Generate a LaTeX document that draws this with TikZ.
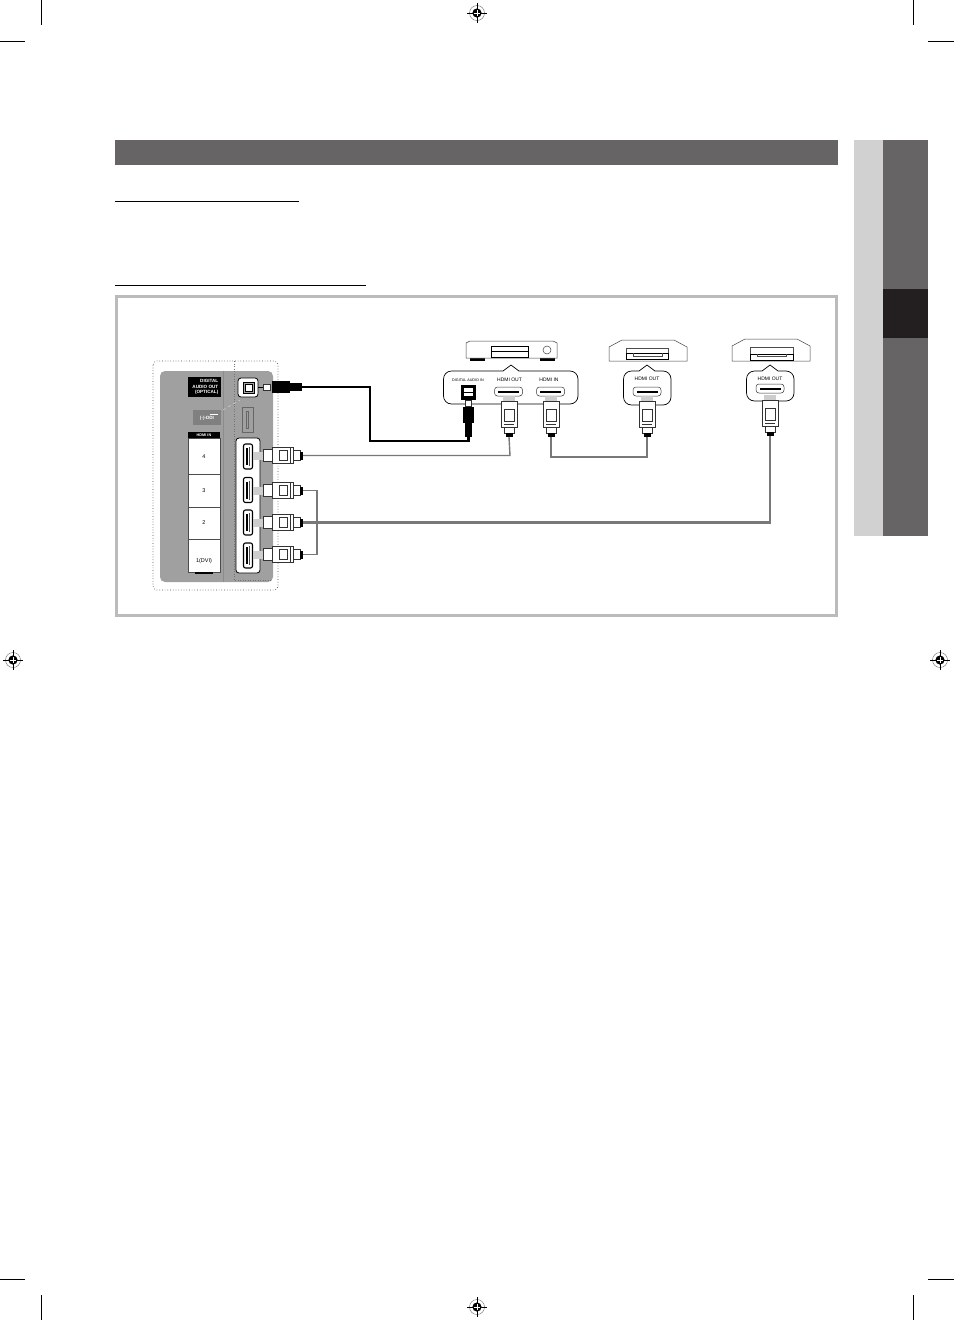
\documentclass[tikz,border=0pt]{standalone}
\usepackage{xcolor}
\usepackage{fontspec}
\setmainfont{Liberation Sans}
\usetikzlibrary{arrows.meta,positioning,calc}
\definecolor{headgrey}{RGB}{102,100,100}
\definecolor{sidegrey}{RGB}{209,209,209}
\definecolor{darkside}{RGB}{35,31,32}
\definecolor{framegrey}{RGB}{187,187,187}
\definecolor{panelgrey}{RGB}{160,160,160}
\definecolor{cablegrey}{RGB}{120,120,120}
\definecolor{neckgrey}{RGB}{205,205,205}

\newcommand{\callout}[5]{% left, top, right, bottom, apex x
  \draw[bubble] (#5,#2-6) -- (#5+8,#2) [rounded corners=8pt] -- (#3,#2) -- (#3,#4) -- (#1,#4) -- (#1,#2) [sharp corners] -- (#5-8,#2) -- cycle;}

\tikzset{
  hplug/.pic={
    \fill[neckgrey] (0,-4) rectangle (10,4);
    \draw[plugline] (10,-6) rectangle (19,6);
    \draw[plugline] (19,-8) rectangle (40,8);
    \draw[plugline] (26,-5) rectangle (34,5);
    \draw[plugline] (37,-8) -- (37,8);
    \draw[plugline] (40,-5) rectangle (47,5);
    \fill[black] (47,-4) rectangle (50,4);
    \coordinate (-end) at (50,0);},
  vplug/.pic={
    \fill[neckgrey] (-6,0) rectangle (6,6);
    \draw[plugline] (-8,5) rectangle (8,31);
    \draw[plugline] (-5,13) rectangle (5,25);
    \draw[plugline] (-5,28) -- (5,28);
    \draw[plugline] (-5,31) rectangle (5,37);
    \fill[black] (-3.5,37) rectangle (3.5,41);
    \coordinate (-end) at (0,41);},
  hport/.pic={
    \draw[black!80,line width=.5pt,fill=white,rounded corners=3pt] (-14,-4.5) rectangle (14,4.5);
    \fill[black] (-10.5,-1) rectangle (10.5,1.2);},
  tvport/.pic={
    \draw[black,line width=1.1pt,fill=white,rounded corners=2pt] (-4.5,-12.5) -- (4.5,-12.5) -- (4.5,12.5) -- (-4.5,12.5) -- cycle;
    \fill[black] (-2.4,-8.5) rectangle (-.4,8.5);
    \draw[black!70,line width=.3pt] (1.2,-9.5) -- (1.2,9.5);},
  regmark/.pic={
    \draw[black!60,line width=.4pt] (0,0) circle (7.5);
    \fill[black] (0,0) circle (4.6);
    \draw[white,line width=.5pt] (-4.6,0) -- (4.6,0) (0,-4.6) -- (0,4.6);
    \draw[black,line width=.5pt] (-10,0) -- (-3,0) (3,0) -- (10,0) (0,-10) -- (0,-3) (0,3) -- (0,10);},
}

\begin{document}
\begin{tikzpicture}[x=1pt,y=-1pt,
  plugline/.style={draw=black!80, line width=.45pt, fill=white},
  bubble/.style={draw=black, line width=.7pt, fill=white},
  devbox/.style={draw=black!75, line width=.5pt, fill=white},
  croprule/.style={black, line width=.6pt},
  hdmicable/.style={draw=cablegrey, line width=2.2pt},
  thincable/.style={draw=cablegrey, line width=1.4pt},
  optcable/.style={draw=black, line width=2.2pt},
  portlabel/.style={font=\fontsize{5}{5}\selectfont, inner sep=0pt},
  paneltext/.style={font=\fontsize{4.6}{5.6}\selectfont, inner sep=0pt, text=white, align=right},
  celltext/.style={font=\fontsize{5.5}{6}\selectfont, inner sep=0pt}]
\useasboundingbox (0,0) rectangle (954,1320);

% crop marks
\draw[croprule] (41.5,0) -- (41.5,25) (0,41) -- (25,41);
\draw[croprule] (913,0) -- (913,25) (928,41) -- (954,41);
\draw[croprule] (41.5,1295) -- (41.5,1320) (0,1279) -- (25,1279);
\draw[croprule] (913,1295) -- (913,1320) (928,1279) -- (954,1279);
\foreach \mx/\my in {477/13,13/660,940/660,477/1307}
  \pic at (\mx,\my) {regmark};

% header and rules
\fill[headgrey] (115,140) rectangle (838,165);
\draw[black,line width=1pt] (115,201) -- (299,201);
\draw[black,line width=1pt] (115,285) -- (366,285);
\draw[framegrey,line width=3pt] (116.5,296.5) rectangle (836.5,615);

% side tab
\fill[sidegrey] (854,140) rectangle (883,536);
\fill[headgrey] (883,140) rectangle (928,536);
\fill[darkside] (883,289) rectangle (928,338);

% tv panel
\draw[black!70,line width=.7pt,dotted,rounded corners=4pt] (153,361) rectangle (278,590);
\fill[panelgrey,rounded corners=5pt] (160,371) rectangle (273,582);
\draw[black!45,line width=.5pt] (223,371) -- (223,582);
\draw[black!55,line width=.5pt,dotted] (234,361) -- (234,580) -- (272,580);
\draw[white!85!black,line width=.4pt,dashed] (223,410) -- (240,400);
\fill[black] (188,377) rectangle (221,397);
\node[paneltext, anchor=east] (optlabel) at (218.5,387) {\bfseries DIGITAL\\\bfseries AUDIO OUT\\\bfseries (OPTICAL)};
\fill[black!50] (193,410) rectangle (221,425);
\node[paneltext, anchor=center] (exlabel) at (207,418.5) {\bfseries (-)-DDI};
\draw[white,line width=.5pt] (210,414) -- (218,414);
% hdmi labels
\fill[black] (188,432) rectangle (220,438);
\node[font=\fontsize{3.8}{4}\selectfont\bfseries, inner sep=0pt, text=white] (hdmiin) at (204,435.2) {HDMI IN};
\draw[black!70,line width=.5pt,fill=white] (188,438) rectangle (220,572);
\foreach \cy in {474,507,539}
  \draw[black!70,line width=.5pt] (188,\cy) -- (220,\cy);
\fill[black] (195,572) rectangle (213,573.5);
\node[celltext] (slotfour) at (204,457) {4};
\node[celltext] (slotthree) at (204,491) {3};
\node[celltext] (slottwo) at (204,523) {2};
\node[celltext] (slotone) at (204,561) {1(DVI)};

% tv ports
\draw[black,line width=.8pt,fill=white,rounded corners=3pt] (238,378) rectangle (258,397);
\draw[black,line width=.7pt,fill=black!35] (243,382) rectangle (254,393);
\draw[black,line width=.4pt,fill=white] (245,384) rectangle (252,391);
\draw[black!60,line width=.5pt] (242,407) rectangle (253,432);
\draw[black!60,line width=.5pt] (246.5,411) rectangle (248.5,428);
\draw[black,line width=.8pt,fill=white,rounded corners=3pt] (236,438) rectangle (260,573);
\foreach \py in {456.5,490,522.5,555.5}
  \pic at (248,\py) {tvport};

% tv plugs
\pic (tvfour) at (253,455.5) {hplug};
\pic (tvthree) at (253,490.5) {hplug};
\pic (tvtwo) at (253,522.5) {hplug};
\pic (tvone) at (253,554.5) {hplug};
\draw[black,line width=.5pt] (258,387) -- (263,387);
\draw[plugline] (263,384) rectangle (270,390);
\fill[black] (272,381) rectangle (290,393);
\fill[black] (290,383) rectangle (302,391);
\coordinate (tvoptic) at (302,387);

% player
\fill[black] (470,358) rectangle (485,361);
\fill[black] (540,358) rectangle (555,361);
\draw[devbox] (466,343) -- (470,341) -- (553,341) -- (557,343) -- (557,358) -- (466,358) -- cycle;
\draw[black,line width=.6pt,fill=white] (491,346) rectangle (528,357);
\draw[black,line width=1pt] (491,351.5) -- (528,351.5);
\draw[black!75,line width=.5pt] (547,350) circle (4);
\callout{443.5}{371}{578}{404}{511}
\node[portlabel, font=\fontsize{3.7}{5}\selectfont] (digitalin) at (468,380) {DIGITAL AUDIO IN};
\node[portlabel] (playerout) at (509.5,380) {HDMI OUT};
\node[portlabel] (playerin) at (549,380) {HDMI IN};
\fill[black] (461,385) rectangle (476,400);
\fill[white] (464,388) rectangle (473,396);
\draw[black,line width=.5pt] (464,392) -- (473,392);
\pic at (508.5,391.5) {hport};
\pic at (550.5,391.5) {hport};
\draw[plugline] (465,400) rectangle (471,406);
\fill[black] (462.5,407) rectangle (474,423);
\fill[black] (464.5,423) rectangle (472,437);
\coordinate (playeroptic) at (468.5,437);
\pic (playerplugout) at (509,396) {vplug};
\pic (playerplugin) at (551,396) {vplug};

% box two
\draw[devbox] (609,347) -- (622,340) -- (674,340) -- (687,347) -- (687,361) -- (609,361) -- cycle;
\draw[black!70,line width=.5pt] (626,348) rectangle (668,353);
\draw[black,line width=.8pt] (626,353) rectangle (668,359);
\draw[black!70,line width=.4pt] (633,353) -- (633,356) -- (662,356) -- (662,353);
\callout{623.5}{371}{671}{405}{647}
\node[portlabel] (boxtwoout) at (647,379) {HDMI OUT};
\pic at (647,391.5) {hport};
\pic (boxtwoplug) at (647,396) {vplug};

% box three
\draw[devbox] (732,346) -- (745,339) -- (797,339) -- (810,346) -- (810,361) -- (732,361) -- cycle;
\draw[black!70,line width=.5pt] (750,347) rectangle (793,354);
\draw[black,line width=.8pt] (750,354) rectangle (793,360);
\draw[black!70,line width=.4pt] (757,354) -- (757,356.5) -- (786,356.5) -- (786,354);
\callout{746.5}{371}{794}{401}{770}
\node[portlabel] (boxthreeout) at (770,378.5) {HDMI OUT};
\pic at (770,388.5) {hport};
\pic (boxthreeplug) at (770,395) {vplug};

% cables
\draw[optcable] (tvoptic) -- (370,387) -- (370,441) -- (468.5,441) -- (playeroptic);
\draw[thincable] (tvfour-end) -- (510,455.5) -- (playerplugout-end);
\draw[hdmicable] (playerplugin-end) -- (551,457) -- (647,457) -- (boxtwoplug-end);
\draw[hdmicable] (tvtwo-end) -- (770,522.5) -- (boxthreeplug-end);
\draw[hdmicable, line width=1.8pt] (tvthree-end) -- (317,490.5) -- (317,554.5) -- (tvone-end);
\end{tikzpicture}
\end{document}
